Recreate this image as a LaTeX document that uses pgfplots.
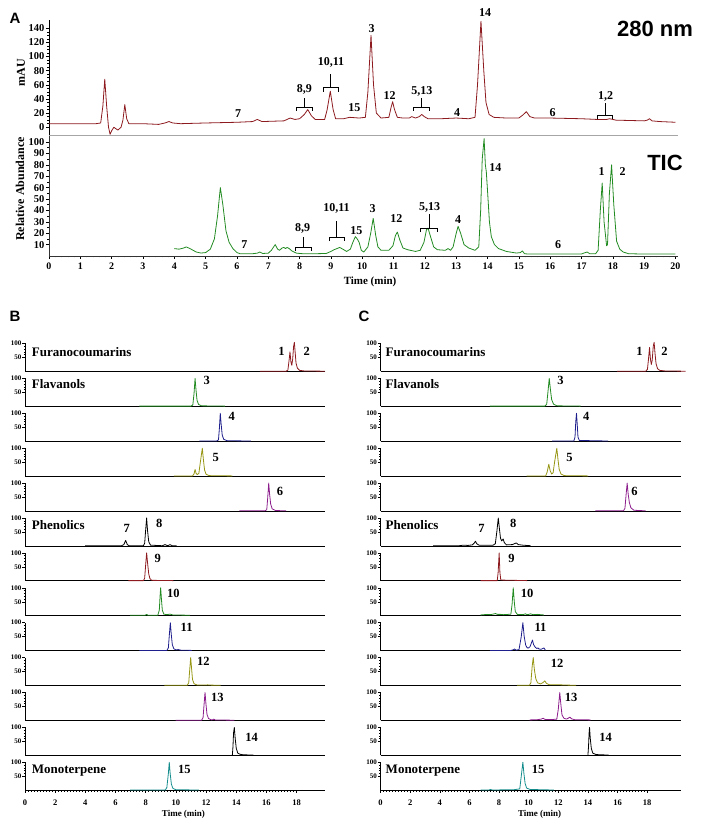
\documentclass[border=0pt]{standalone}
\usepackage{pgfplots}
\pgfplotsset{compat=1.18}
\usepackage{fontspec}
\setmainfont{Liberation Serif}
\newfontfamily\arialfont{Liberation Sans}
\definecolor{cred}{RGB}{140,26,30}
\definecolor{cgreen}{RGB}{34,139,34}
\definecolor{cblue}{RGB}{30,30,140}
\definecolor{colive}{RGB}{150,150,20}
\definecolor{cpurple}{RGB}{140,30,140}
\definecolor{cteal}{RGB}{20,140,140}
\newcommand{\fs}[1]{\fontsize{#1}{#1}\selectfont}
\tikzset{
 lab/.style={font=\bfseries\fs{12.5}, inner sep=0pt},
 grp/.style={font=\bfseries\fs{13}, anchor=west, inner sep=0pt},
 alab/.style={font=\bfseries\fs{12}, inner sep=0pt},
}
\pgfplotsset{
 every axis/.append style={/pgf/number format/assume math mode=true},
 every axis plot/.append style={mark=none, line join=round, line width=0.8pt},
 rowbase/.style={scale only axis, anchor=south west, clip=false, width=300pt, height=28pt,
   xmin=0, ymin=0, ymax=100, axis x line=bottom, axis y line=left,
   axis line style={-, line width=0.8pt, black},
   ytick={50,100}, minor y tick num=4, xtick=\empty, tick align=outside,
   major tick length=2.5pt, minor tick length=1.2pt,
   yticklabel style={font=\bfseries\fs{7}, inner sep=1pt},
   every tick/.style={black, line width=0.5pt}},
 brow/.style={rowbase, xmax=19.88},
 crow/.style={rowbase, xmax=20.25},
 lastrow/.style={xtick={0,2,...,18}, minor x tick num=9,
   xticklabel style={font=\bfseries\fs{8.5}, yshift=-4pt}},
}
\begin{document}
\begin{tikzpicture}
\useasboundingbox (0,0) rectangle (707pt,828pt);
% ---------------- Panel A: 280 nm ----------------
\begin{axis}[scale only axis, anchor=south west, at={(49pt,693pt)}, clip=false,
  width=629pt, height=115.2pt, xmin=0, xmax=20.08, ymin=-11, ymax=152,
  axis x line=bottom, axis y line=left, axis line style={-, line width=0.7pt},
  x axis line style={gray!70}, xtick=\empty,
  ytick={0,20,...,140}, minor y tick num=3, tick align=outside,
  major tick length=3pt, minor tick length=1.5pt,
  every tick/.style={black, line width=0.5pt},
  yticklabel style={font=\bfseries\fs{10.5}, inner sep=1.5pt}]
\addplot[cred] coordinates {(0,5) (1.5,5) (1.65,6) (1.72,30) (1.78,68) (1.84,30) (1.9,0) (1.95,-10) (2.0,-5) (2.07,0) (2.13,-2) (2.2,-4) (2.3,0) (2.36,10) (2.42,32) (2.48,12) (2.55,5) (3.0,5) (3.5,4) (3.7,6) (3.83,8) (3.95,6) (4.2,5) (5,6) (6,7) (6.5,8) (6.65,11) (6.8,8) (7.5,9) (7.7,13) (7.85,11) (8.0,12) (8.15,18) (8.26,25) (8.38,16) (8.5,11) (8.8,11) (8.88,25) (8.98,51) (9.07,25) (9.15,12) (9.4,12) (9.6,14) (9.9,13) (10.1,14) (10.18,50) (10.28,130) (10.36,60) (10.45,20) (10.6,13) (10.85,14) (10.92,28) (10.97,36) (11.03,25) (11.12,14) (11.3,13) (11.5,13) (11.58,15) (11.7,13) (11.82,15) (11.9,18) (11.98,15) (12.1,12) (12.5,12) (13.0,13) (13.4,12) (13.6,14) (13.68,60) (13.79,150) (13.88,80) (13.95,35) (14.05,18) (14.2,14) (14.6,13) (15.0,13) (15.12,17) (15.24,22) (15.35,15) (15.5,13) (16,13) (17,12) (17.5,11) (17.8,11) (17.9,12) (18.1,10) (19.0,9) (19.1,10) (19.17,12) (19.25,9) (19.5,8) (20,7)};
\node[alab] at (axis cs:6.04,20) {7};
\node[alab] at (axis cs:8.15,53) {8,9};
\draw[line width=1pt] (axis cs:7.9,23) -- (axis cs:7.9,28) -- (axis cs:8.4,28) -- (axis cs:8.4,23);
\draw[line width=1pt] (axis cs:8.15,28) -- (axis cs:8.15,42);
\node[alab] at (axis cs:9.0,91) {10,11};
\draw[line width=1pt] (axis cs:8.76,50) -- (axis cs:8.76,56) -- (axis cs:9.24,56) -- (axis cs:9.24,50);
\draw[line width=1pt] (axis cs:9.0,56) -- (axis cs:9.0,75);
\node[alab] at (axis cs:9.75,28) {15};
\node[alab] at (axis cs:10.3,139) {3};
\node[alab] at (axis cs:10.87,45) {12};
\node[alab] at (axis cs:11.9,51) {5,13};
\draw[line width=1pt] (axis cs:11.63,23) -- (axis cs:11.63,28) -- (axis cs:12.14,28) -- (axis cs:12.14,23);
\draw[line width=1pt] (axis cs:11.885,28) -- (axis cs:11.885,42);
\node[alab] at (axis cs:13.03,21) {4};
\node[alab] at (axis cs:13.92,162) {14};
\node[alab] at (axis cs:16.08,21) {6};
\node[alab] at (axis cs:17.77,44) {1,2};
\draw[line width=1pt] (axis cs:17.5,11) -- (axis cs:17.5,17) -- (axis cs:18.0,17) -- (axis cs:18.0,11);
\draw[line width=1pt] (axis cs:17.75,17) -- (axis cs:17.75,34);
\end{axis}
% ---------------- Panel A: TIC ----------------
\begin{axis}[scale only axis, anchor=south west, at={(49pt,572pt)}, clip=false,
  width=629pt, height=120pt, xmin=0, xmax=20.08, ymin=0, ymax=105.3,
  axis x line=bottom, axis y line=left, axis line style={-, line width=0.7pt, black!80},
  xtick={0,1,...,20}, minor x tick num=4,
  ytick={10,20,...,100}, minor y tick num=1, tick align=outside,
  major tick length=3pt, minor tick length=1.5pt,
  every tick/.style={black, line width=0.5pt},
  yticklabel style={font=\bfseries\fs{10.5}, inner sep=1.5pt},
  xticklabel style={font=\bfseries\fs{10}}]
\addplot[cgreen] coordinates {(4.0,6.5) (4.15,6) (4.3,7) (4.38,8) (4.5,6.5) (4.7,3.5) (4.85,2.6) (5.0,3) (5.15,6) (5.28,15) (5.38,35) (5.47,60) (5.55,45) (5.65,22) (5.75,12) (5.87,6.5) (6.0,3) (6.1,2) (6.5,2) (6.65,2.5) (6.73,3.5) (6.82,2.2) (7.0,2.5) (7.1,5) (7.22,10) (7.3,6) (7.36,5) (7.44,7) (7.5,7.5) (7.55,6.5) (7.6,7.5) (7.67,6.5) (7.75,4.5) (7.9,2.5) (8.1,2) (8.5,2) (8.85,2.2) (9.0,4) (9.1,5.5) (9.28,7.5) (9.38,6) (9.5,4) (9.62,6) (9.7,12) (9.78,17) (9.84,15) (9.9,12) (9.97,5) (10.05,3.5) (10.18,8) (10.27,20) (10.35,33) (10.43,18) (10.5,8) (10.6,5) (10.85,5) (10.98,9) (11.06,18) (11.12,21) (11.2,14) (11.3,7) (11.45,5.5) (11.7,4) (11.85,5) (11.97,12) (12.05,23) (12.1,24.5) (12.18,17) (12.28,8) (12.4,5.5) (12.65,5) (12.74,6.5) (12.82,5) (12.9,8) (13.0,20) (13.06,26) (13.14,20) (13.25,10) (13.4,7) (13.6,5) (13.72,8) (13.78,40) (13.83,85) (13.89,103) (13.93,80) (13.96,74) (14.0,57) (14.06,30) (14.12,17) (14.22,10) (14.35,6.5) (14.6,4) (14.92,2.6) (15.05,3) (15.11,4.5) (15.18,2) (15.3,1.7) (16,1.7) (17.0,1.8) (17.1,2.8) (17.18,3.5) (17.26,2) (17.45,2) (17.53,5) (17.6,40) (17.66,64) (17.72,30) (17.8,9) (17.83,10) (17.89,55) (17.96,80) (18.03,45) (18.12,13) (18.22,6) (18.33,3.5) (18.5,2) (19,1.7) (20,1.7)};
\node[alab] at (axis cs:6.24,10) {7};
\node[alab] at (axis cs:8.1,24) {8,9};
\draw[line width=1pt] (axis cs:7.88,4.5) -- (axis cs:7.88,7.4) -- (axis cs:8.38,7.4) -- (axis cs:8.38,4.5);
\draw[line width=1pt] (axis cs:8.13,7.4) -- (axis cs:8.13,16.7);
\node[alab] at (axis cs:9.18,41.6) {10,11};
\draw[line width=1pt] (axis cs:8.94,13) -- (axis cs:8.94,16) -- (axis cs:9.42,16) -- (axis cs:9.42,13);
\draw[line width=1pt] (axis cs:9.18,16) -- (axis cs:9.18,31);
\node[alab] at (axis cs:9.81,22.5) {15};
\node[alab] at (axis cs:10.33,41.6) {3};
\node[alab] at (axis cs:11.09,33) {12};
\node[alab] at (axis cs:12.15,43) {5,13};
\draw[line width=1pt] (axis cs:11.87,21) -- (axis cs:11.87,24) -- (axis cs:12.4,24) -- (axis cs:12.4,21);
\draw[line width=1pt] (axis cs:12.135,24) -- (axis cs:12.135,36.6);
\node[alab] at (axis cs:13.06,32) {4};
\node[alab] at (axis cs:14.25,78) {14};
\node[alab] at (axis cs:16.25,10) {6};
\node[alab] at (axis cs:17.64,74) {1};
\node[alab] at (axis cs:18.31,74) {2};
\node[font=\bfseries\fs{11}] at (axis cs:10.25,0) [yshift=-26pt] {Time (min)};
\end{axis}
\node[font=\arialfont\bfseries\fs{15}] at (15pt,810pt) {A};
\node[font=\arialfont\bfseries\fs{22}] at (655pt,799pt) {280 nm};
\node[font=\arialfont\bfseries\fs{22}] at (665pt,665pt) {TIC};
\node[font=\bfseries\fs{12}, rotate=90] at (21pt,755pt) {mAU};
\node[font=\bfseries\fs{12}, rotate=90] at (20pt,639pt) {Relative Abundance};
\node[font=\arialfont\bfseries\fs{15}] at (15pt,512pt) {B};
\node[font=\arialfont\bfseries\fs{15}] at (364pt,512pt) {C};
% ---------------- Panel B ----------------
\begin{axis}[brow, at={(25pt,456.5pt)}]
\addplot[cred] coordinates {(15.57,1)(17.3,1)(17.42,5)(17.5,40)(17.56,70)(17.62,35)(17.68,22)(17.74,45)(17.8,90)(17.85,104)(17.9,70)(17.96,30)(18.05,12)(18.2,4)(18.5,2)(19.88,1)};
\node[grp] at (axis cs:0.44,71) {Furanocoumarins};
\node[lab] at (axis cs:17.0,72) {1};
\node[lab] at (axis cs:18.67,72) {2};
\end{axis}
\begin{axis}[brow, at={(25pt,421.6pt)}]
\addplot[cgreen] coordinates {(7.58,1)(11.0,1)(11.12,5)(11.2,45)(11.27,100)(11.33,60)(11.4,22)(11.5,7)(11.7,2)(13.25,1)};
\node[grp] at (axis cs:0.44,81) {Flavanols};
\node[lab] at (axis cs:12.04,93) {3};
\end{axis}
\begin{axis}[brow, at={(25pt,386.7pt)}]
\addplot[cblue] coordinates {(11.55,1)(12.7,1)(12.82,5)(12.88,45)(12.94,100)(13.0,60)(13.07,22)(13.17,7)(13.4,2)(14.96,1)};
\node[lab] at (axis cs:13.7,90) {4};
\end{axis}
\begin{axis}[brow, at={(25pt,351.8pt)}]
\addplot[colive] coordinates {(9.87,1)(11.1,1)(11.2,8)(11.27,24)(11.34,10)(11.42,6)(11.52,10)(11.62,50)(11.75,100)(11.82,60)(11.9,22)(12.0,7)(12.2,2)(13.74,1)};
\node[lab] at (axis cs:12.64,68) {5};
\end{axis}
\begin{axis}[brow, at={(25pt,316.9pt)}]
\addplot[cpurple] coordinates {(14.2,1)(15.9,1)(16.02,5)(16.08,45)(16.15,100)(16.21,60)(16.28,25)(16.38,8)(16.6,2)(17.3,1)};
\node[lab] at (axis cs:16.9,70) {6};
\end{axis}
\begin{axis}[brow, at={(25pt,282.0pt)}]
\addplot[black] coordinates {(3.98,1)(6.4,1)(6.55,5)(6.67,20)(6.78,5)(6.9,1)(7.85,1)(7.93,10)(8.0,60)(8.06,100)(8.12,55)(8.2,15)(8.32,3)(9.1,1)(9.28,5)(9.4,2)(9.5,2)(9.61,5)(9.75,1)(10.05,1)};
\node[grp] at (axis cs:0.44,75) {Phenolics};
\node[lab] at (axis cs:6.74,62) {7};
\node[lab] at (axis cs:8.9,82) {8};
\end{axis}
\begin{axis}[brow, at={(25pt,247.1pt)}]
\addplot[cred] coordinates {(6.85,1)(7.85,1)(7.93,10)(8.0,60)(8.06,100)(8.13,60)(8.2,25)(8.28,8)(8.4,2)(9.83,1)};
\node[lab] at (axis cs:8.79,80) {9};
\end{axis}
\begin{axis}[brow, at={(25pt,212.2pt)}]
\addplot[cgreen] coordinates {(6.96,2)(7.95,2)(8.06,5)(8.15,2)(8.8,2)(8.9,20)(8.95,70)(8.99,100)(9.04,60)(9.1,20)(9.2,6)(9.4,4)(9.61,6)(9.8,3)(10.93,2)};
\node[lab] at (axis cs:9.83,80) {10};
\end{axis}
\begin{axis}[brow, at={(25pt,177.3pt)}]
\addplot[cblue] coordinates {(7.58,1)(9.4,1)(9.5,10)(9.57,60)(9.63,100)(9.69,60)(9.76,22)(9.86,7)(10.0,3)(10.16,4)(10.3,2)(11.05,1)};
\node[lab] at (axis cs:10.71,83) {11};
\end{axis}
\begin{axis}[brow, at={(25pt,142.4pt)}]
\addplot[colive] coordinates {(9.23,1)(10.75,1)(10.85,10)(10.92,60)(10.98,100)(11.04,60)(11.1,22)(11.2,7)(11.4,2)(12.05,2)(12.1,3)(12.15,2)(12.97,1)};
\node[lab] at (axis cs:11.82,85) {12};
\end{axis}
\begin{axis}[brow, at={(25pt,107.5pt)}]
\addplot[cpurple] coordinates {(9.98,1)(11.7,1)(11.8,10)(11.87,60)(11.93,100)(11.99,60)(12.06,22)(12.16,7)(12.35,2)(12.45,3)(12.52,5)(12.6,2)(13.87,1)};
\node[lab] at (axis cs:12.74,82) {13};
\end{axis}
\begin{axis}[brow, at={(25pt,72.6pt)}]
\addplot[black] coordinates {(13.74,1)(13.78,30)(13.82,80)(13.87,100)(13.93,60)(14.0,25)(14.1,8)(14.3,3)(14.6,2)(15.13,1)};
\node[lab] at (axis cs:15.02,64) {14};
\end{axis}
\begin{axis}[brow, lastrow, at={(25pt,37.7pt)}]
\addplot[cteal] coordinates {(6.96,1)(9.3,1)(9.4,10)(9.5,60)(9.56,100)(9.62,60)(9.7,22)(9.8,7)(10.0,2)(11.53,1)};
\node[grp] at (axis cs:0.44,71) {Monoterpene};
\node[lab] at (axis cs:10.56,76) {15};
\node[font=\bfseries\fs{9}] at (axis cs:10.5,0) [yshift=-24pt] {Time (min)};
\end{axis}
% ---------------- Panel C ----------------
\begin{axis}[crow, at={(380.5pt,456.5pt)}]
\addplot[cred] coordinates {(15.98,1)(17.9,1)(18.02,8)(18.1,50)(18.16,86)(18.22,45)(18.28,25)(18.34,40)(18.41,90)(18.47,104)(18.53,65)(18.6,28)(18.7,10)(18.85,4)(19.2,2)(20.6,1)};
\node[grp] at (axis cs:0.34,71) {Furanocoumarins};
\node[lab] at (axis cs:17.48,72) {1};
\node[lab] at (axis cs:19.17,72) {2};
\end{axis}
\begin{axis}[crow, at={(380.5pt,421.6pt)}]
\addplot[cgreen] coordinates {(7.38,1)(11.1,1)(11.22,8)(11.3,50)(11.39,100)(11.47,60)(11.55,25)(11.68,8)(11.9,2)(13.5,1)};
\node[grp] at (axis cs:0.34,81) {Flavanols};
\node[lab] at (axis cs:12.15,93) {3};
\end{axis}
\begin{axis}[crow, at={(380.5pt,386.7pt)}]
\addplot[cblue] coordinates {(11.59,1)(13.05,1)(13.13,15)(13.18,70)(13.23,100)(13.28,60)(13.33,15)(13.42,3)(15.37,1)};
\node[lab] at (axis cs:13.88,90) {4};
\end{axis}
\begin{axis}[crow, at={(380.5pt,351.8pt)}]
\addplot[colive] coordinates {(9.86,1)(11.15,1)(11.25,15)(11.36,43)(11.45,20)(11.55,8)(11.65,12)(11.75,50)(11.9,100)(11.98,60)(12.06,25)(12.18,8)(12.4,2)(14.02,1)};
\node[lab] at (axis cs:12.76,67) {5};
\end{axis}
\begin{axis}[crow, at={(380.5pt,316.9pt)}]
\addplot[cpurple] coordinates {(14.51,1)(16.4,1)(16.5,10)(16.58,60)(16.65,100)(16.72,60)(16.8,30)(16.9,12)(17.1,3)(17.89,1)};
\node[lab] at (axis cs:17.15,70) {6};
\end{axis}
\begin{axis}[crow, at={(380.5pt,282.0pt)}]
\addplot[black] coordinates {(3.56,1)(5.3,1)(5.6,3)(5.9,2)(6.2,4)(6.32,10)(6.41,17)(6.5,8)(6.65,3)(7.6,3)(7.75,8)(7.85,50)(7.95,100)(8.03,60)(8.1,28)(8.18,18)(8.28,25)(8.36,12)(8.5,4)(8.9,5)(9.16,11)(9.3,5)(9.6,3)(10.13,1)};
\node[grp] at (axis cs:0.34,75) {Phenolics};
\node[lab] at (axis cs:6.82,62) {7};
\node[lab] at (axis cs:8.96,82) {8};
\end{axis}
\begin{axis}[crow, at={(380.5pt,247.1pt)}]
\addplot[cred] coordinates {(6.75,1)(7.88,1)(7.94,30)(8.01,100)(8.06,30)(8.12,3)(9.9,1)};
\node[lab] at (axis cs:8.84,80) {9};
\end{axis}
\begin{axis}[crow, at={(380.5pt,212.2pt)}]
\addplot[cgreen] coordinates {(6.75,3)(7.0,4)(7.2,5)(7.4,4)(7.6,6)(7.76,8)(7.9,5)(8.1,5)(8.3,4)(8.6,5)(8.8,6)(8.88,40)(8.96,100)(9.03,50)(9.1,15)(9.25,4)(9.45,5)(9.6,4)(9.79,7)(9.9,4)(10.0,5)(10.13,7)(10.3,4)(10.6,5)(10.8,4)(11.03,3)};
\node[lab] at (axis cs:9.9,80) {10};
\end{axis}
\begin{axis}[crow, at={(380.5pt,177.3pt)}]
\addplot[cblue] coordinates {(7.38,1)(8.8,1)(8.95,3)(9.05,6)(9.15,2)(9.35,4)(9.5,50)(9.61,100)(9.7,50)(9.8,20)(9.9,10)(10.0,10)(10.1,15)(10.2,30)(10.26,38)(10.33,22)(10.45,12)(10.55,8)(10.62,10)(10.7,6)(10.85,5)(10.95,8)(11.03,10)(11.1,4)(11.14,2)};
\node[lab] at (axis cs:10.8,83) {11};
\end{axis}
\begin{axis}[crow, at={(380.5pt,142.4pt)}]
\addplot[colive] coordinates {(9.23,1)(10.05,1)(10.15,10)(10.24,70)(10.31,100)(10.38,60)(10.48,25)(10.6,10)(10.8,6)(10.95,10)(11.09,17)(11.2,8)(11.4,3)(12.0,3)(12.5,2)(13.2,1)};
\node[lab] at (axis cs:11.93,80) {12};
\end{axis}
\begin{axis}[crow, at={(380.5pt,107.5pt)}]
\addplot[cpurple] coordinates {(10.06,2)(10.6,3)(10.85,5)(10.98,8)(11.1,4)(11.5,3)(11.9,5)(12.0,40)(12.1,100)(12.17,60)(12.25,20)(12.38,8)(12.55,5)(12.7,9)(12.78,12)(12.9,6)(13.1,3)(13.6,3)(14.18,2)};
\node[lab] at (axis cs:12.87,82) {13};
\end{axis}
\begin{axis}[crow, at={(380.5pt,72.6pt)}]
\addplot[black] coordinates {(14.0,1)(14.04,30)(14.08,80)(14.11,100)(14.16,60)(14.23,25)(14.33,8)(14.55,3)(15.0,2)(15.4,1)};
\node[lab] at (axis cs:15.19,64) {14};
\end{axis}
\begin{axis}[crow, lastrow, at={(380.5pt,37.7pt)}]
\addplot[cteal] coordinates {(6.75,1)(7.3,1)(7.43,3)(7.55,1)(8.7,2)(9.0,2)(9.4,5)(9.5,50)(9.61,100)(9.68,60)(9.76,25)(9.86,8)(10.1,3)(11.7,1)};
\node[grp] at (axis cs:0.34,71) {Monoterpene};
\node[lab] at (axis cs:10.64,76) {15};
\node[font=\bfseries\fs{9}] at (axis cs:10.74,0) [yshift=-24pt] {Time (min)};
\end{axis}
\end{tikzpicture}
\end{document}
